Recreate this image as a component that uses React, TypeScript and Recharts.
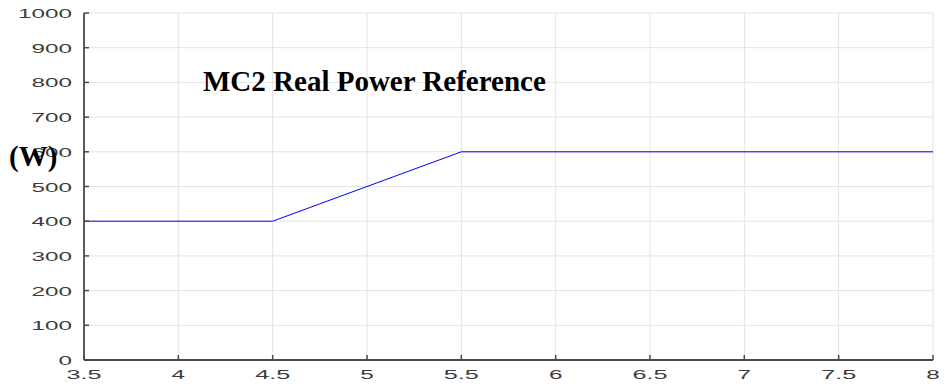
import { LineChart, Line, XAxis, YAxis, CartesianGrid } from 'recharts'

const times = [3.5, 4.5, 5.5, 8]
const power = [400, 400, 600, 600]
const xTicks = [3.5, 4, 4.5, 5, 5.5, 6, 6.5, 7, 7.5, 8]
const yTicks = [0, 100, 200, 300, 400, 500, 600, 700, 800, 900, 1000]

const data = times.map((t, i) => ({ t, p: power[i] }))

const AXIS = '#4a4a4a'
const LABEL = '#3c3c3c'
const SERIF = '"Liberation Serif", "Times New Roman", serif'

// the labels in the picture are stretched sideways, so fix their length
function labelWidth(s: string) {
  let w = 0
  for (const ch of s) w += ch === '.' ? 8 : 13.5
  return w
}

function BottomTick(props: any) {
  const { x, y, payload } = props
  const s = String(payload.value)
  return (
    <g>
      <line x1={x} y1={y} x2={x} y2={y - 5} stroke={AXIS} strokeWidth={1.5} />
      <text
        x={x}
        y={y + 19}
        textAnchor="middle"
        fontSize={12}
        fontFamily="Liberation Sans, Arial, sans-serif"
        fill={LABEL}
        textLength={labelWidth(s)}
        lengthAdjust="spacingAndGlyphs"
      >
        {s}
      </text>
    </g>
  )
}

function LeftTick(props: any) {
  const { x, y, payload } = props
  const s = String(payload.value)
  return (
    <g>
      <line x1={x} y1={y} x2={x + 5} y2={y} stroke={AXIS} strokeWidth={1.5} />
      <text
        x={x - 12}
        y={y + 5}
        textAnchor="end"
        fontSize={12}
        fontFamily="Liberation Sans, Arial, sans-serif"
        fill={LABEL}
        textLength={labelWidth(s)}
        lengthAdjust="spacingAndGlyphs"
      >
        {s}
      </text>
    </g>
  )
}

function TopTick(props: any) {
  const { x, y } = props
  return <line x1={x} y1={y} x2={x} y2={y + 5} stroke={AXIS} strokeWidth={1.5} />
}

function RightTick(props: any) {
  const { x, y } = props
  return <line x1={x} y1={y} x2={x - 5} y2={y} stroke={AXIS} strokeWidth={1.5} />
}

export default function App() {
  return (
    <div style={{ position: 'absolute', left: 0, top: 0, width: 944, height: 392, background: '#fff' }}>
      <LineChart width={944} height={392} data={data} margin={{ top: 13, right: 11, bottom: 0, left: 0 }}>
        <CartesianGrid stroke="#e3e3e3" strokeWidth={1} />
        <XAxis
          dataKey="t"
          type="number"
          domain={[3.5, 8]}
          ticks={xTicks}
          height={32}
          tickSize={0}
          tickMargin={0}
          tickLine={false}
          axisLine={{ stroke: AXIS, strokeWidth: 1.8 }}
          tick={<BottomTick />}
          interval={0}
        />
        <XAxis
          xAxisId="top"
          orientation="top"
          dataKey="t"
          type="number"
          domain={[3.5, 8]}
          ticks={xTicks}
          height={0}
          tickSize={0}
          tickMargin={0}
          tickLine={false}
          axisLine={{ stroke: AXIS, strokeWidth: 1.8 }}
          tick={<TopTick />}
          interval={0}
        />
        <YAxis
          type="number"
          domain={[0, 1000]}
          ticks={yTicks}
          width={84}
          tickSize={0}
          tickMargin={0}
          tickLine={false}
          axisLine={{ stroke: AXIS, strokeWidth: 1.8 }}
          tick={<LeftTick />}
          interval={0}
        />
        <YAxis
          yAxisId="right"
          orientation="right"
          type="number"
          domain={[0, 1000]}
          ticks={yTicks}
          width={0}
          tickSize={0}
          tickMargin={0}
          tickLine={false}
          axisLine={{ stroke: AXIS, strokeWidth: 1.8 }}
          tick={<RightTick />}
          interval={0}
        />
        <Line
          type="linear"
          dataKey="p"
          stroke="#0000ff"
          strokeWidth={1}
          dot={false}
          isAnimationActive={false}
        />
      </LineChart>
      <svg width={944} height={392} style={{ position: 'absolute', left: 0, top: 0, pointerEvents: 'none' }}>
        <text x={203} y={91} fontFamily={SERIF} fontWeight="bold" fontSize={29} fill="#000">
          MC2 Real Power Reference
        </text>
        <text x={9} y={166} fontFamily={SERIF} fontWeight="bold" fontSize={29} fill="#000">
          (W)
        </text>
      </svg>
    </div>
  )
}
